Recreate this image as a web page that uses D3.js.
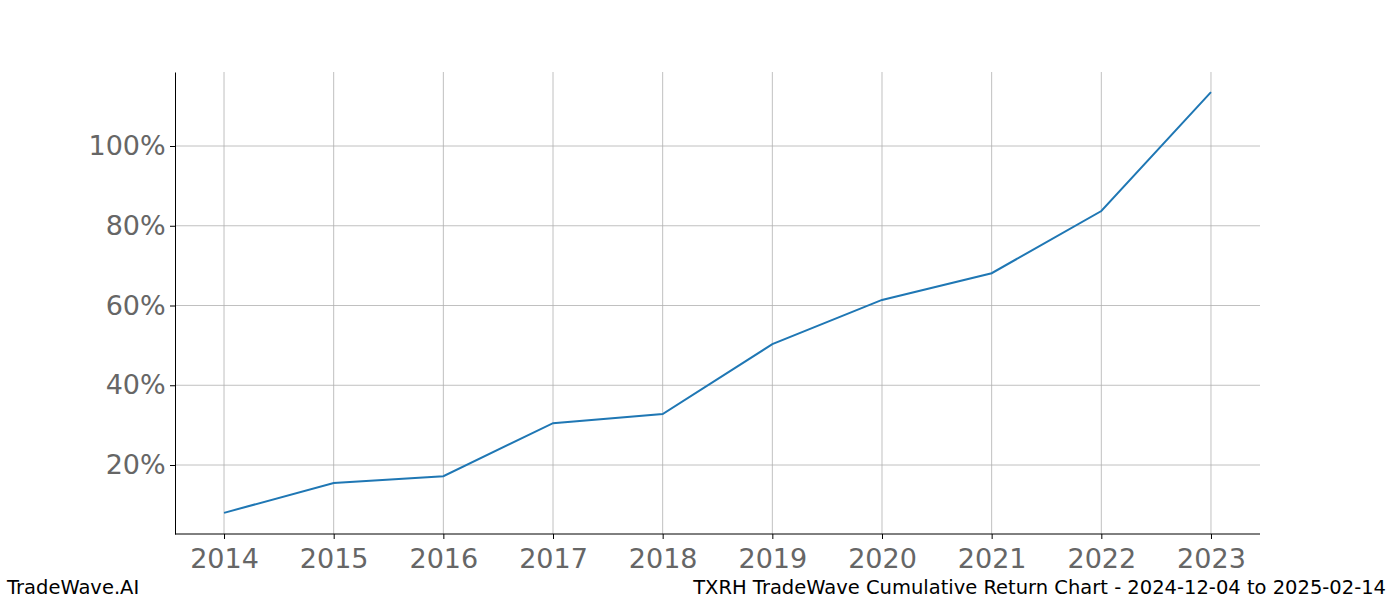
<!DOCTYPE html>
<html><head><meta charset="utf-8">
<script src="https://cdn.jsdelivr.net/npm/d3@7"></script>
<style>body{margin:0;background:#fff;font-family:"DejaVu Sans",sans-serif;}</style>
</head><body>
<svg id="c" width="1400" height="600"></svg>
<script>
const years=[2014,2015,2016,2017,2018,2019,2020,2021,2022,2023];
const returns=[8.0,15.5,17.2,30.5,32.8,50.3,61.4,68.1,83.7,113.5];
const yTicks=[20,40,60,80,100];
const svg=d3.select("#c");
const L=175,R=1260,T=72,B=534;
const x=d3.scaleLinear().domain([2013.553,2023.447]).range([L,R]);
const y=d3.scaleLinear().domain([2.7,118.56]).range([B,T]);
const g=svg.append("g");
g.selectAll(".vg").data(years).enter().append("line").attr("x1",d=>x(d)).attr("x2",d=>x(d)).attr("y1",T).attr("y2",B).attr("stroke","#b0b0b0").attr("stroke-width",0.8);
g.selectAll(".hg").data(yTicks).enter().append("line").attr("x1",L).attr("x2",R).attr("y1",d=>y(d)).attr("y2",d=>y(d)).attr("stroke","#b0b0b0").attr("stroke-width",0.8);
const xa=svg.append("g").attr("transform",`translate(0,${B})`).call(d3.axisBottom(x).tickValues(years).tickFormat(d3.format("d")).tickSize(5).tickSizeOuter(0));
const ya=svg.append("g").attr("transform",`translate(${L},0)`).call(d3.axisLeft(y).tickValues(yTicks).tickFormat(d=>d+"%").tickSize(5).tickSizeOuter(0));
[xa,ya].forEach(a=>{a.selectAll("text").attr("fill","#666").style("font-size","27px").style("font-family","DejaVu Sans");a.select(".domain").attr("stroke","#000");a.selectAll(".tick line").attr("stroke","#000");});
xa.selectAll("text").attr("dy","0.95em");
ya.selectAll("text").attr("dx","-0.05em");
xa.select(".domain").attr("d",`M${L},0H${R}`);
svg.append("path").datum(years.map((d,i)=>[d,returns[i]])).attr("fill","none").attr("stroke","#1f77b4").attr("stroke-width",2)
 .attr("d",d3.line().x(d=>x(d[0])).y(d=>y(d[1])));
svg.append("text").attr("x",7).attr("y",594).text("TradeWave.AI").style("font-size","19.5px");
svg.append("text").attr("x",1386).attr("y",594).attr("text-anchor","end").text("TXRH TradeWave Cumulative Return Chart - 2024-12-04 to 2025-02-14").style("font-size","19.5px");
</script></body></html>
